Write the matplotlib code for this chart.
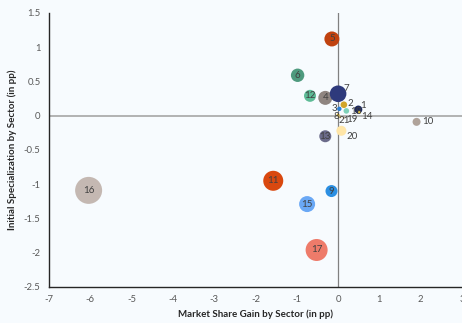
import matplotlib
matplotlib.use("Agg")
import matplotlib.pyplot as plt

# Data
sectors = ["1", "2", "3", "4", "5", "6", "7", "8", "9", "10", "11", "12", "13", "14", "15", "16", "17", "18", "19", "20", "21"]
share_gain = [0.49, 0.14, 0.03, -0.31, -0.15, -0.98, 0.0, 0.0, -0.16, 1.90, -1.57, -0.68, -0.31, 0.52, -0.75, -6.04, -0.52, 0.20, 0.14, 0.08, 0.05]
init_spec = [0.09, 0.16, 0.10, 0.26, 1.12, 0.59, 0.32, 0.01, -1.10, -0.09, -0.95, 0.29, -0.30, 0.05, -1.29, -1.09, -1.96, 0.07, -0.03, -0.22, -0.02]
bubble = [4.0, 3.3, 2.2, 7.0, 7.5, 6.7, 8.3, 1.5, 6.0, 4.0, 10.0, 6.0, 6.0, 1.5, 8.0, 13.5, 11.0, 2.8, 1.2, 5.0, 1.2]
colors = ["#1F2A5C", "#D2A52A", "#2B7FD6", "#8F8580", "#C0420F", "#4E9A7E", "#2E3A7C",
          "#E0B830", "#2B8FE2", "#B0A39A", "#D9480F", "#5DBB96", "#6B6B8A", "#E8C840",
          "#6AA8F5", "#C4B8B2", "#EE7B6A", "#7FD1B9", "#C9B89A", "#FFE6A8", "#D8C070"]

x_ticks = [-7, -6, -5, -4, -3, -2, -1, 0, 1, 2, 3]
y_ticks = [1.5, 1, 0.5, 0, -0.5, -1, -1.5, -2, -2.5]

bg = "#F7FBFE"
plt.rcParams['font.family'] = ['Lato', 'DejaVu Sans']

fig = plt.figure(figsize=(4.62, 3.23), dpi=100, facecolor=bg)
ax = fig.add_axes([0.106, 0.1115, 0.894, 0.8485], facecolor=bg)

ax.axhline(0, color="#A6A6A6", lw=1.2, zorder=1)
ax.axvline(0, color="#808080", lw=0.9, zorder=1)

sizes = [(1.44 * r) ** 2 for r in bubble]
ax.scatter(share_gain, init_spec, s=sizes, c=colors, zorder=3, linewidths=0)

# label placement (style): offsets in points from bubble centre to label centre
offsets = {"1": (3.4, 3.1), "2": (4.5, 1.2), "3": (-3.3, 0), "7": (6.2, 4.1),
           "8": (-1.2, -1.0), "10": (8.4, 0.5), "14": (5.0, -3.2), "18": (7.0, -0.5),
           "19": (5.5, -0.9), "20": (7.5, -4.3), "21": (2.9, -2.2)}
for name, xv, yv in zip(sectors, share_gain, init_spec):
    dx, dy = offsets.get(name, (0, 0))
    ax.annotate(name, (xv, yv), xytext=(dx, dy), textcoords="offset points",
                ha="center", va="center", fontsize=7, color="#404040", zorder=4)

ax.set_xlim(-7, 3)
ax.set_ylim(-2.5, 1.5)
ax.set_xticks(x_ticks)
ax.set_yticks(y_ticks)
ax.set_xticklabels([f"{t:g}" for t in x_ticks])
ax.set_yticklabels([f"{t:g}" for t in y_ticks])
ax.tick_params(length=0, labelsize=6.8, colors="#595959", pad=6)

for s in ("top", "right"):
    ax.spines[s].set_visible(False)
for s in ("left", "bottom"):
    ax.spines[s].set_color("#262626")
    ax.spines[s].set_linewidth(1.0)

ax.set_xlabel("Market Share Gain by Sector (in pp)", fontsize=7, fontweight="bold", color="#262626", labelpad=4)
ax.set_ylabel("Initial Specialization by Sector (in pp)", fontsize=7, fontweight="bold", color="#262626", labelpad=5)

fig.savefig("out.png", dpi=100, facecolor=bg)
